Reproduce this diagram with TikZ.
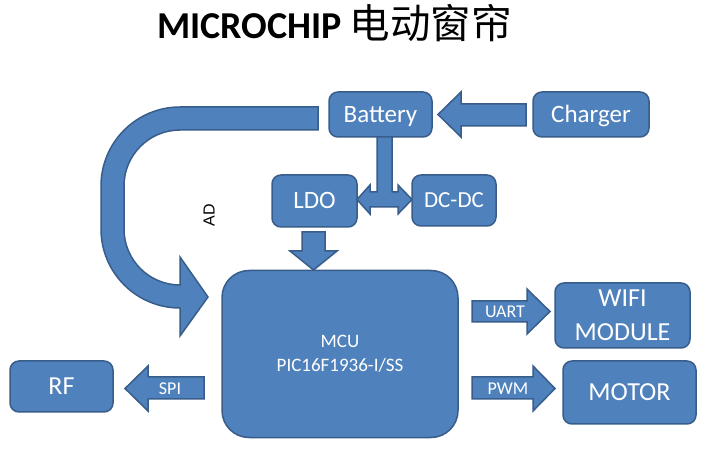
\documentclass[tikz,border=0pt]{standalone}
\usepackage{fontspec}
\setmainfont{Carlito}
\newfontfamily\cjk{Noto Sans CJK SC}
\newfontfamily\arialf{Liberation Sans}
\definecolor{boxfill}{HTML}{4F81BD}
\definecolor{boxline}{HTML}{385D8A}
\begin{document}
\begin{tikzpicture}[x=1pt,y=-1pt,
  box/.style={draw=boxline, fill=boxfill, line width=1.5pt, rounded corners=9pt,
    text=white, font=\fontsize{25}{30}\selectfont, align=center, inner sep=0pt},
  oneline/.style={text height=#1, text depth=0pt},
  oneline/.default=16pt,
  barrow/.style={draw=boxline, fill=boxfill, line width=1.5pt, line join=miter},
  lbl/.style={text=white, font=\fontsize{18}{22}\selectfont, inner sep=0pt}]
\useasboundingbox[fill=white] (0,0) rectangle (710,454);

% title
\node[anchor=base west, inner sep=0pt] (title) at (157,39)
  {{\fontsize{38}{44}\selectfont\bfseries MICROCHIP}\hspace{8pt}{\cjk\fontsize{40.5}{44}\selectfont 电动窗帘}};

% boxes
\node[box, oneline, minimum width=103pt, minimum height=45pt] (bat) at (380.5,114.5) {Battery};
\node[box, oneline, minimum width=116pt, minimum height=45pt] (chg) at (591,114.5) {Charger};
\node[box, oneline, minimum width=85pt, minimum height=52pt] (ldo) at (314.5,201) {LDO};
\node[box, oneline=14.8pt, minimum width=84pt, minimum height=51pt, font=\fontsize{23}{28}\selectfont] (dcdc) at (454,200.5) {DC-DC};
\node[box, minimum width=236pt, minimum height=167pt, rounded corners=27pt,
  font=\fontsize{19}{24}\selectfont] (mcu) at (340,354) {MCU\\PIC16F1936-I/SS};
\node[box, oneline=16.7pt, minimum width=103pt, minimum height=51pt, font=\fontsize{26}{30}\selectfont] (rf) at (61.5,386.5) {RF};
\node[box, minimum width=135pt, minimum height=65pt, font=\fontsize{26}{34}\selectfont] (wifi) at (622.5,315.5) {\raisebox{-2pt}{WIFI}\\\raisebox{-2pt}{MODULE}};
\node[box, oneline=16.7pt, minimum width=133pt, minimum height=63pt, font=\fontsize{26}{30}\selectfont] (motor) at (629.5,392.5) {MOTOR};

% charger -> battery
\draw[barrow] (526,104) -- (461,104) -- (461,92) -- (438,114.5) -- (461,137) -- (461,126) -- (526,126) -- cycle;

% battery -> LDO / DC-DC
\draw[barrow] (377,137) -- (392,137) -- (392,192) -- (398,192) -- (398,185) -- (412,199.5)
  -- (398,214) -- (398,207) -- (370,207) -- (370,214) -- (357,199.5) -- (370,185)
  -- (370,192) -- (377,192) -- cycle;

% LDO -> MCU
\draw[barrow] (302,232) -- (325,232) -- (325,251) -- (337,251) -- (313.5,270) -- (290,251) -- (302,251) -- cycle;

% battery -> MCU (AD) curved arrow
\draw[barrow] (318,107) -- (180,107) arc[start angle=270, end angle=180, radius=79]
  -- (101,229) arc[start angle=180, end angle=90, radius=79]
  -- (180,336) -- (208,297) -- (180,257) -- (180,285)
  arc[start angle=90, end angle=180, radius=56]
  -- (124,186) arc[start angle=180, end angle=270, radius=56]
  -- (318,130) -- cycle;
\node[rotate=90, font=\arialf\fontsize{16}{18}\selectfont, inner sep=0pt] (ad) at (209,215) {AD};

% SPI
\draw[barrow] (204,377) -- (148,377) -- (148,366) -- (125,388.5) -- (148,411) -- (148,399) -- (204,399) -- cycle;
\node[lbl] (spi) at (170,388.5) {SPI};

% UART
\draw[barrow] (472,301) -- (527,301) -- (527,289) -- (550,311.5) -- (527,334) -- (527,322) -- (472,322) -- cycle;
\node[lbl] (uart) at (505,311.5) {UART};

% PWM
\draw[barrow] (472,377) -- (533,377) -- (533,366) -- (555,388.5) -- (533,411) -- (533,399) -- (472,399) -- cycle;
\node[lbl] (pwm) at (508,388.5) {PWM};
\end{tikzpicture}
\end{document}
